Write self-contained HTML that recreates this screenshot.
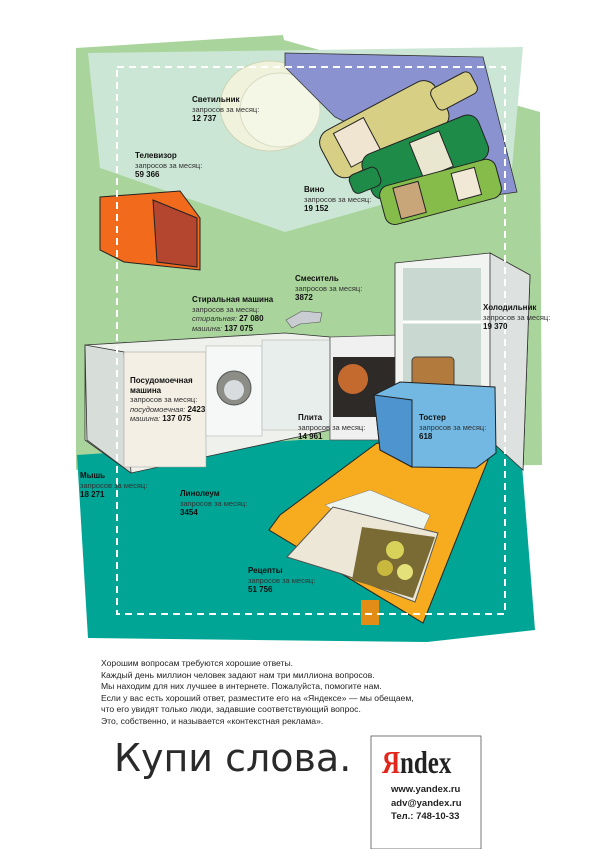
<!DOCTYPE html>
<html><head><meta charset="utf-8"><style>
html,body{margin:0;padding:0;background:#fff;width:600px;height:849px;overflow:hidden}
svg{position:absolute;left:0;top:0}
.l{position:absolute;font-family:"Liberation Sans",sans-serif;font-size:7.5px;line-height:9.5px;color:#333;white-space:nowrap}
.l b{color:#111;font-size:8px}
.t{position:absolute;font-family:"Liberation Sans",sans-serif;font-size:8.6px;line-height:11.6px;color:#222;left:101px;top:658px;white-space:nowrap}
</style></head><body>
<svg width="600" height="849" viewBox="0 0 600 849">
<polygon points="76,48 283,35 284,40 540,112 542,465 76,470" fill="#a9d49b"/>
<polygon points="88,53 523,47 512,168 285,232 100,168" fill="#cbe6d4"/>
<ellipse cx="270" cy="106" rx="50" ry="45" fill="#f0f2dc" stroke="#cdd4b5"/>
<ellipse cx="280" cy="110" rx="40" ry="37" fill="#f4f6e6" stroke="#d8dcc4"/>
<polygon points="285,53 483,57 517,192 496,195 335,117 285,67" fill="#8a93cf" stroke="#333" stroke-width="0.8"/>
<g stroke="#222" stroke-width="1">
<g transform="rotate(-28 390 125)"><rect x="318" y="100" width="130" height="52" rx="14" fill="#d6cf84"/><rect x="440" y="113" width="45" height="24" rx="6" fill="#d6cf84"/><rect x="336" y="106" width="34" height="38" fill="#efe5d0"/></g>
<g transform="rotate(-22 425 155)"><rect x="362" y="133" width="125" height="48" rx="12" fill="#1f8b49"/><rect x="345" y="146" width="30" height="20" rx="6" fill="#1f8b49"/><rect x="415" y="138" width="32" height="38" fill="#e9e7cf"/></g>
<g transform="rotate(-15 440 190)"><rect x="380" y="172" width="120" height="40" rx="10" fill="#86bd4a"/><rect x="395" y="176" width="26" height="32" fill="#c9a57a"/><rect x="455" y="177" width="24" height="28" fill="#f1e8d6"/></g>
</g>
<polygon points="100,197 180,191 200,218 200,270 124,262 100,250" fill="#f26a1b" stroke="#222"/>
<polygon points="153,200 197,218 197,267 157,262" fill="#b4462f" stroke="#222"/>
<polygon points="77,455 300,440 520,440 535,630 427,642 88,638" fill="#00a595"/>
<polygon points="85,345 285,333 330,337 330,430 131,473 85,440" fill="#eef1ec" stroke="#333" stroke-width="0.8"/>
<polygon points="85,345 124,352 131,473 87,440" fill="#d7ddd8" stroke="#333" stroke-width="0.8"/>
<rect x="124" y="352" width="82" height="115" fill="#f3efe4" stroke="#999" stroke-width="0.5"/>
<rect x="206" y="346" width="56" height="90" fill="#f6f8f8" stroke="#aaa" stroke-width="0.5"/>
<circle cx="234" cy="388" r="17" fill="#8d8d88" stroke="#555"/><circle cx="234" cy="390" r="10" fill="#d8dcde"/>
<rect x="262" y="340" width="68" height="90" fill="#e8eeec" stroke="#aaa" stroke-width="0.5"/>
<polygon points="330,337 400,335 400,440 330,440" fill="#f0f0f0" stroke="#555" stroke-width="0.8"/>
<rect x="333" y="357" width="62" height="60" fill="#2d2a28"/>
<circle cx="353" cy="379" r="15" fill="#c56a2f"/>
<polygon points="395,263 490,253 530,275 523,470 490,440 395,440" fill="#f2f4f2" stroke="#333" stroke-width="0.8"/>
<rect x="403" y="268" width="78" height="165" fill="#c9d9d2"/>
<line x1="403" y1="322" x2="481" y2="322" stroke="#fff" stroke-width="3"/>
<polygon points="490,253 530,275 523,470 490,440" fill="#dde2e0" stroke="#333" stroke-width="0.8"/>
<polygon points="377,443 488,460 423,623 269,530 280,515" fill="#f6ac1e" stroke="#222"/>
<polygon points="361,600 379,600 379,625 361,625" fill="#e28d16"/>
<polygon points="325,505 370,490 430,515 410,560" fill="#eef4ee" stroke="#777" stroke-width="0.5"/>
<polygon points="287,557 333,507 438,533 415,602 342,574" fill="#ece7d6" stroke="#555"/>
<polygon points="362,527 435,537 413,598 352,580" fill="#7a6a33"/>
<circle cx="395" cy="550" r="9" fill="#d9d25a"/><circle cx="385" cy="568" r="8" fill="#c9b83e"/><circle cx="405" cy="572" r="8" fill="#e4e07a"/>
<rect x="412" y="357" width="42" height="34" fill="#b37a3d" stroke="#444" rx="4"/>
<polygon points="374,395 400,382 495,387 496,453 476,468 412,467 380,450" fill="#72b8e2" stroke="#222"/>
<polygon points="374,395 412,400 412,467 380,450" fill="#4e95cf" stroke="#222"/>
<polygon points="286,320 302,311 322,313 320,322 300,324 292,328" fill="#c9ccd0" stroke="#555" stroke-width="0.6"/>
<rect x="117" y="67" width="388" height="547" fill="none" stroke="#fff" stroke-width="2" stroke-dasharray="7,5"/>
<rect x="371" y="736" width="110" height="113" fill="#fff" stroke="#555" stroke-width="0.8"/>
</svg>
<div class="l" style="left:192px;top:95px"><b>Светильник</b><br>запросов за месяц:<br><b>12 737</b></div>
<div class="l" style="left:135px;top:151px"><b>Телевизор</b><br>запросов за месяц:<br><b>59 366</b></div>
<div class="l" style="left:304px;top:185px"><b>Вино</b><br>запросов за месяц:<br><b>19 152</b></div>
<div class="l" style="left:295px;top:274px"><b>Смеситель</b><br>запросов за месяц:<br><b>3872</b></div>
<div class="l" style="left:192px;top:295px"><b>Стиральная машина</b><br>запросов за месяц:<br><i>стиральная:</i> <b>27 080</b><br><i>машина:</i> <b>137 075</b></div>
<div class="l" style="left:483px;top:303px"><b>Холодильник</b><br>запросов за месяц:<br><b>19 370</b></div>
<div class="l" style="left:130px;top:376px"><b>Посудомоечная<br>машина</b><br>запросов за месяц:<br><i>посудомоечная:</i> <b>2423</b><br><i>машина:</i> <b>137 075</b></div>
<div class="l" style="left:298px;top:413px"><b>Плита</b><br>запросов за месяц:<br><b>14 961</b></div>
<div class="l" style="left:419px;top:413px"><b>Тостер</b><br>запросов за месяц:<br><b>618</b></div>
<div class="l" style="left:80px;top:471px"><b>Мышь</b><br>запросов за месяц:<br><b>18 271</b></div>
<div class="l" style="left:180px;top:489px"><b>Линолеум</b><br>запросов за месяц:<br><b>3454</b></div>
<div class="l" style="left:248px;top:566px"><b>Рецепты</b><br>запросов за месяц:<br><b>51 756</b></div>
<div class="t">Хорошим вопросам требуются хорошие ответы.<br>Каждый день миллион человек задают нам три миллиона вопросов.<br>Мы находим для них лучшее в интернете. Пожалуйста, помогите нам.<br>Если у вас есть хороший ответ, разместите его на «Яндексе» — мы обещаем,<br>что его увидят только люди, задавшие соответствующий вопрос.<br>Это, собственно, и называется «контекстная реклама».</div>
<div style="position:absolute;left:114px;top:736px;font-family:'DejaVu Sans','Liberation Sans',sans-serif;font-size:38px;color:#2a2a2a;white-space:nowrap">Купи слова.</div>
<div style="position:absolute;left:382px;top:744px;font-family:'Liberation Serif',serif;font-size:32px;font-weight:bold;color:#222;transform:scaleX(0.78);transform-origin:left;white-space:nowrap"><span style="color:#e1261c">Я</span>ndex</div>
<div style="position:absolute;left:391px;top:783px;font-family:'Liberation Sans',sans-serif;font-size:9.5px;line-height:13.5px;color:#222;font-weight:bold;white-space:nowrap">www.yandex.ru<br>adv@yandex.ru<br>Тел.: 748-10-33</div>
</body></html>
